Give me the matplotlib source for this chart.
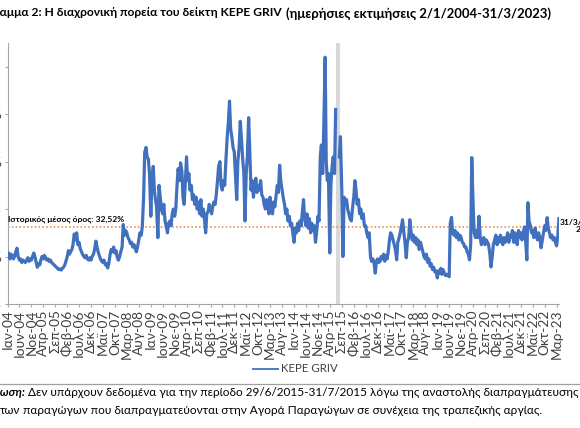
import matplotlib
matplotlib.use("Agg")
import matplotlib.pyplot as plt
from matplotlib.lines import Line2D
import numpy as np
import pandas as pd

FAM = ['Lato', 'DejaVu Sans']
plt.rcParams['font.family'] = FAM

nan = np.nan
# KEPE GRIV (%), readings on the 1st and 15th of each month
v2004 = [20, 21.5, 19, 21, 20.5, 19, 20, 22, 23.5, 20, 18.5, 19, 17.5, 18.5, 18, 17.5, 18.5, 19.5, 18, 19, 18.5, 20, 21.5, 20]
v2005 = [17.5, 15.5, 17, 16.5, 18.5, 20, 19, 20.5, 19.5, 18.5, 19, 18, 18.5, 17.5, 17, 16.5, 16, 15.5, 15, 14.5, 14.8, 14.3, 15, 15.5]
v2006 = [16.5, 18, 20, 22.5, 21, 22, 23, 25, 29.5, 27, 30, 25, 26, 23.5, 22, 21, 20, 19.5, 20.5, 19, 18.5, 19.5, 18.5, 20]
v2007 = [21, 23, 26.5, 24, 22, 20.5, 19, 18, 17.5, 18.5, 16.5, 17, 15.2, 17, 21, 23, 22, 24, 21.5, 22.5, 19.5, 18.5, 20, 22]
v2008 = [24, 33.5, 29, 31, 30, 28, 27, 25.5, 26, 24, 25, 23.5, 22, 24, 27, 30, 29, 33, 45, 64, 66, 62, 61, 55]
v2009 = [37, 52, 58, 48, 44, 41, 28, 50, 45, 40, 38, 42, 35, 33, 30, 34, 35, 33, 38, 40, 37, 40, 50, 57]
v2010 = [52, 59.5, 56, 45, 42, 50, 62, 52, 55, 48, 50, 44, 46, 42, 45, 40, 43, 38, 44, 37, 40, 36, 30, 38]
v2011 = [39, 42, 40, 38, 41, 43, 42, 46, 52, 58, 60, 50, 48, 52, 50, 60, 70, 76, 85.5, 74, 70, 66, 64, 55]
v2012 = [44, 60, 66, 77, 70, 62, 55, 35, 55, 62, 78.5, 65, 48, 52, 45, 50, 53, 47, 50, 48, 52, 46, 45, 42]
v2013 = [40, 44, 42, 38, 45, 40, 38, 43, 41, 45, 50, 47, 58.5, 52, 48, 45, 42, 38, 40, 35, 37, 33, 34, 30]
v2014 = [26, 32, 30, 34, 31, 35, 33, 38, 44, 36, 33, 38, 32, 36, 30, 34, 31, 33, 26, 30, 37, 35, 62, 67]
v2015 = [55, 75, 104, 60, 52, 55, 21.5, 50, 58, 62, 55, 82, nan, nan, 62, 70.5, 48, 20, 45, 42, 44, 40, 38, 36]
v2016 = [35, 40, 45, 52, 48, 42, 44, 38, 40, 36, 38, 33, 33, 30, 28, 30, 20, 18, 19, 17.5, 13, 18, 19, 17.5]
v2017 = [18, 20, 19, 21, 18, 20.5, 19, 22, 27, 30, 29, 27, 25, 23, 18.6, 26, 28, 30, 33, 35.5, 30, 26, 19.5, 26]
v2018 = [28, 35.5, 30, 27, 29, 26, 28, 25, 27, 23, 26, 24, 22, 20, 19, 21, 17.5, 19, 16, 17, 14.5, 15.5, 13.5, 14]
v2019 = [11, 14, 13, 15, 12.5, 14.5, 13, 12, 12.5, 12, 11.5, 34, 36.5, 30, 29, 31, 28, 30, 27, 29, 28, 26, 25.5, 24]
v2020 = [24, 22, 21, 18.6, 25, 61.7, 42, 30, 28, 31, 28, 37, 28, 25, 26, 28, 25, 27, 26, 25, 21, 15.6, 20, 25]
v2021 = [27, 29, 25, 28, 26, 29, 27, 25, 28, 26, 27, 30, 26, 29, 28, 31, 26, 30, 29, 25, 31, 28, 30, 27]
v2022 = [30, 32.5, 26, 18.6, 42.7, 35, 33, 30, 31, 28, 32, 29, 27, 30, 28, 23.7, 27, 30, 33, 31, 36.4, 32, 30, 28]
v2023 = [29, 27, 28, 26, 24.5, 28]
last_date = '2023-03-31'
last_value = 36

mean_value = 32.52
gap_start, gap_end = '2015-06-29', '2015-07-31'

tick_labels = ['Ιαν-04', 'Ιουν-04', 'Νοε-04', 'Απρ-05', 'Σεπ-05', 'Φεβ-06', 'Ιουλ-06', 'Δεκ-06',
               'Μαϊ-07', 'Οκτ-07', 'Μαρ-08', 'Αυγ-08', 'Ιαν-09', 'Ιουν-09', 'Νοε-09', 'Απρ-10',
               'Σεπ-10', 'Φεβ-11', 'Ιουλ-11', 'Δεκ-11', 'Μαϊ-12', 'Οκτ-12', 'Μαρ-13', 'Αυγ-13',
               'Ιαν-14', 'Ιουν-14', 'Νοε-14', 'Απρ-15', 'Σεπ-15', 'Φεβ-16', 'Ιουλ-16', 'Δεκ-16',
               'Μαϊ-17', 'Οκτ-17', 'Μαρ-18', 'Αυγ-18', 'Ιαν-19', 'Ιουν-19', 'Νοε-19', 'Απρ-20',
               'Σεπ-20', 'Φεβ-21', 'Ιουλ-21', 'Δεκ-21', 'Μαϊ-22', 'Οκτ-22', 'Μαρ-23']

# ---- assemble series
years = list(range(2004, 2024))
yearly = [v2004, v2005, v2006, v2007, v2008, v2009, v2010, v2011, v2012, v2013,
          v2014, v2015, v2016, v2017, v2018, v2019, v2020, v2021, v2022, v2023]
dates, vals = [], []
for y, v in zip(years, yearly):
    d = pd.date_range(f'{y}-01-01', f'{y}-12-31', freq='SMS')[:len(v)]
    dates.extend(d)
    vals.extend(v)
dates.append(pd.Timestamp(last_date))
vals.append(last_value)

W, H = 580, 428
fig = plt.figure(figsize=(W / 100, H / 100), dpi=100)
renderer = fig.canvas.get_renderer()

def fx(px):
    return px / W

def fy(py):
    return 1 - py / H

def fit_size(s, width_px, **kw):
    t = fig.text(0, 0, s, fontsize=10, **kw)
    w = t.get_window_extent(renderer).width
    t.remove()
    return 10 * width_px / w

BLUE = '#4070BE'
DARK = '#404040'
GRAY = '#a6a6a6'

ax = fig.add_axes([fx(7.5), fy(304), (559 - 7.5) / W, (304 - 43) / H])
ax.axvspan(pd.Timestamp(gap_start), pd.Timestamp(gap_end), color='#d9d9d9', lw=1.5, zorder=1)
ax.axhline(mean_value, color='#ED7D31', lw=1.1, ls=(0, (1, 1.5)), zorder=2)
ax.plot(dates, vals, color=BLUE, lw=2.3, zorder=3, solid_joinstyle='round')

ax.set_xlim(pd.Timestamp('2004-01-01'), pd.Timestamp('2023-04-01'))
ax.set_ylim(0, 110)
for s in ['top', 'right']:
    ax.spines[s].set_visible(False)
for s in ['left', 'bottom']:
    ax.spines[s].set_color(GRAY)
    ax.spines[s].set_linewidth(0.8)

tick_fs = fit_size('Ιουν-04', 47)
tick_dates = pd.date_range('2004-01-01', periods=len(tick_labels), freq='5MS')
ax.set_xticks(tick_dates)
ax.set_xticklabels(tick_labels, rotation=90, fontsize=tick_fs, color=DARK)
ax.set_yticks([0, 20, 40, 60, 80, 100])
ax.set_yticklabels(['0%', '20%', '40%', '60%', '80%', '100%'], fontsize=tick_fs, color=DARK)
ax.tick_params(axis='both', length=2.5, color=GRAY, width=0.8, pad=1.5)

# mean label
lab = 'Ιστορικός μέσος όρος: 32,52%'
fs_lab = fit_size(lab, 116, weight='bold')
fig.text(fx(8), fy(219), lab, fontsize=fs_lab, weight='bold', color='black', ha='left', va='center')

# last value label (cut by the figure edge)
fig.text(fx(560), fy(226), '31/3/2023:\n29,87%', fontsize=fs_lab, weight='bold', color='black',
         ha='left', va='center', multialignment='right', linespacing=1.05)

# title
vis = 'αμμα 2: Η διαχρονική πορεία του δείκτη KEPE GRIV'
fs_t = fit_size(vis, 282, weight='bold')
fig.text(fx(282), fy(13), 'Διάγραμμα 2: Η διαχρονική πορεία του δείκτη KEPE GRIV',
         fontsize=fs_t, weight='bold', ha='right', va='center', color='black')
sub = '(ημερήσιες εκτιμήσεις 2/1/2004-31/3/2023)'
fs_s = fit_size(sub, 267, weight='bold')
fig.text(fx(286), fy(14), sub, fontsize=fs_s, weight='bold', ha='left', va='center', color='black')

# legend
fig.add_artist(Line2D([fx(253), fx(278)], [fy(369), fy(369)], color=BLUE, lw=1.3))
leg = 'KEPE GRIV'
fs_leg = fit_size(leg, 57)
fig.text(fx(281), fy(369), leg, fontsize=fs_leg, color=DARK, ha='left', va='center')

# separator
fig.add_artist(Line2D([0, 1], [fy(384), fy(384)], color='#a0a0a0', lw=0.9))

# note
n1 = 'Δεν υπάρχουν δεδομένα για την περίοδο 29/6/2015-31/7/2015 λόγω της αναστολής διαπραγμάτευσης'
fs_n = fit_size(n1, 551)
fig.text(fx(28), fy(393), n1, fontsize=fs_n, ha='left', va='center', color='black')
fig.text(fx(25), fy(393), 'Σημείωση:', fontsize=fs_n, weight='bold', style='italic',
         ha='right', va='center', color='black')
n2 = 'παραγώγων που διαπραγματεύονται στην Αγορά Παραγώγων σε συνέχεια της τραπεζικής αργίας.'
fig.text(fx(23), fy(410), n2, fontsize=fs_n, ha='left', va='center', color='black')
fig.text(fx(20), fy(410), 'των', fontsize=fs_n, ha='right', va='center', color='black')

fig.savefig('out.png', dpi=100)
